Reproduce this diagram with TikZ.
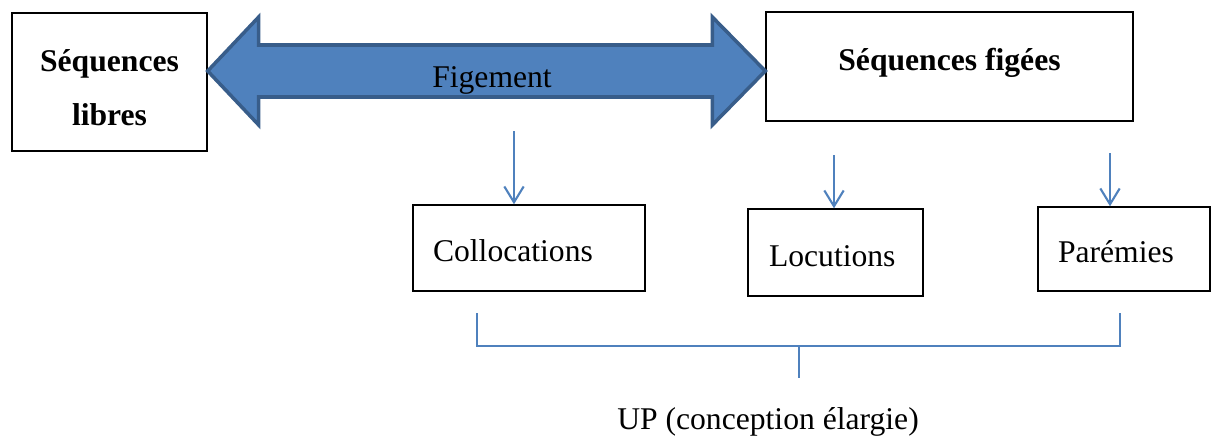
\documentclass[tikz,border=0pt]{standalone}
\usepackage{fontspec}
\setmainfont{Liberation Serif}
\usepackage{tikz}
\usetikzlibrary{arrows.meta}
\usetikzlibrary{positioning}
\usetikzlibrary{calc}

\definecolor{ofblue}{HTML}{4F81BD}
\definecolor{ofdark}{HTML}{385D8A}

% text lowered inside a box, without changing its size
\newcommand{\boxtext}[2]{\raisebox{#1}[0pt][0pt]{#2}}

\begin{document}
\begin{tikzpicture}
  [
    x=0.02cm, y=-0.02cm,
    every node/.style={font=\fontsize{18}{22}\selectfont},
    seqbox/.style = {draw, line width=0.8pt, align=center, inner sep=0pt},
    upbox/.style  = {draw, line width=0.8pt, align=left, inner xsep=0.4cm, inner ysep=0pt},
    down/.style   = {ofblue, line width=1.2pt, -{Straight Barb[length=9pt,width=11pt]}},
    brk/.style    = {ofblue, line width=1.1pt},
    bigarrow/.style = {fill=ofblue, draw=ofdark, line width=2pt, line join=miter},
  ]

  \useasboundingbox (0,0) rectangle (1211,436);

  % the two big boxes
  \node (libres) at (109.5,82) [seqbox, minimum width=3.9cm, minimum height=2.76cm,
    font=\bfseries\fontsize{18}{31}\selectfont]
    {\boxtext{-7.6pt}{\begin{tabular}{@{}c@{}}Séquences\\libres\end{tabular}}};
  \node (figees) at (949.5,66.5) [seqbox, minimum width=7.34cm, minimum height=2.18cm,
    font=\bfseries\fontsize{18}{22}\selectfont] {\boxtext{-2pt}{Séquences figées}};

  % double arrow between them
  \def\tipy{71}
  \def\shaft{26}
  \def\head{54}
  \coordinate (tipL) at (libres.east |- 0,\tipy);
  \coordinate (tipR) at (figees.west |- 0,\tipy);
  \draw[bigarrow] (tipL) -- ++(51,-\head) -- ++(0,\head-\shaft)
    -- ($(tipR)+(-53,-\shaft)$) -- ++(0,\shaft-\head) -- (tipR)
    -- ++(-53,\head) -- ++(0,\shaft-\head)
    -- ($(tipL)+(51,\shaft)$) -- ++(0,\head-\shaft) -- cycle;
  \node (figement) at (492,80) {Figement};

  % the three kinds
  \node (coll) at (529,248) [upbox, minimum width=4.64cm, minimum height=1.72cm, text width=3.84cm] {\boxtext{-7.8pt}{Collocations}};
  \node (loc) at (835.5,252.5) [upbox, minimum width=3.5cm, minimum height=1.74cm, text width=2.66cm] {\boxtext{-7.8pt}{Locutions}};
  \node (par) at (1124,249) [upbox, minimum width=3.44cm, minimum height=1.68cm, text width=2.64cm] {\boxtext{-7.8pt}{Parémies}};

  \coordinate (a1) at (514,131);
  \coordinate (a2) at (834,155);
  \coordinate (a3) at (1110,153);
  \draw[down] (a1) -- (a1 |- coll.north);
  \draw[down] (a2) -- (a2 |- loc.north);
  \draw[down] (a3) -- (a3 |- par.north);

  % bracket
  \coordinate (bl) at (477,313);
  \coordinate (br) at (1120,313);
  \coordinate (bm) at (799,346);
  \draw[brk] (bl) -- (bl |- bm) -- (br |- bm) -- (br);
  \draw[brk] (bm) -- ++(0,32);

  \node (up) at (768,422) {UP (conception élargie)};

\end{tikzpicture}
\end{document}
